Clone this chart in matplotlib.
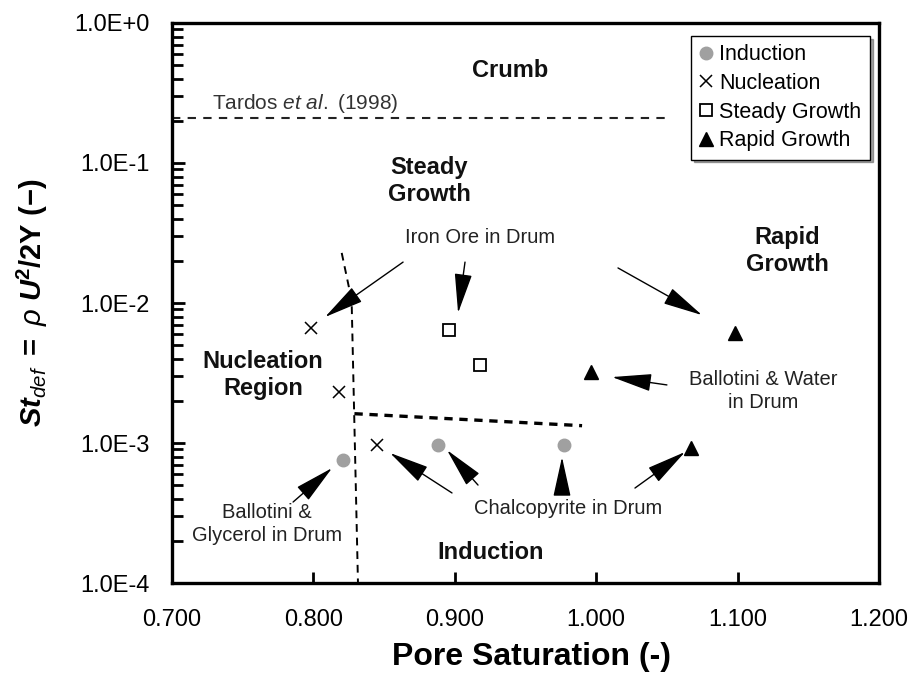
import numpy as np
import matplotlib
matplotlib.use('Agg')
import matplotlib.pyplot as plt
from matplotlib.ticker import FuncFormatter, LogLocator, NullFormatter

plt.rcParams['font.family'] = ['Liberation Sans', 'DejaVu Sans']
plt.rcParams['mathtext.fontset'] = 'custom'
plt.rcParams['mathtext.rm'] = 'Liberation Sans'
plt.rcParams['mathtext.it'] = 'Liberation Sans:italic'
plt.rcParams['mathtext.bf'] = 'Liberation Sans:bold'
plt.rcParams['mathtext.bfit'] = 'Liberation Sans:bold:italic'

# data points
ind_x = [0.821, 0.888, 0.977]
ind_y = [7.6e-4, 9.7e-4, 9.7e-4]
nuc_x = [0.798, 0.818, 0.845]
nuc_y = [6.6e-3, 2.3e-3, 9.7e-4]
sg_x = [0.896, 0.918]
sg_y = [6.4e-3, 3.6e-3]
rg_x = [1.098, 0.996, 1.067]
rg_y = [6.1e-3, 3.2e-3, 9.2e-4]

# regime boundaries
tardos_x = [0.700, 1.052]
tardos_y = [0.21, 0.21]
nuc_bound_x = [0.820, 0.827, 0.8315]
nuc_bound_y = [0.0228, 0.0105, 1e-4]
ind_bound_x = [0.829, 0.990]
ind_bound_y = [1.62e-3, 1.33e-3]

# arrows: (tail, head)
arrows = [
    ((0.8634, 0.0196), (0.8082, 7.94e-3)),
    ((0.9072, 0.0196), (0.9023, 8.49e-3)),
    ((1.0154, 0.0178), (1.0748, 8.2e-3)),
    ((1.0500, 2.6e-3), (1.0112, 2.96e-3)),
    ((1.0274, 4.77e-4), (1.0628, 8.63e-4)),
    ((0.9758, 4.3e-4), (0.9758, 7.94e-4)),
    ((0.9164, 5.01e-4), (0.8945, 8.9e-4)),
    ((0.8980, 4.4e-4), (0.8542, 8.49e-4)),
    ((0.7856, 3.79e-4), (0.8132, 6.63e-4)),
]

region_labels = [
    ('Crumb', 0.939, 0.46),
    ('Steady\nGrowth', 0.882, 0.0743),
    ('Rapid\nGrowth', 1.135, 0.0235),
    ('Nucleation\nRegion', 0.7644, 3.06e-3),
    ('Induction', 0.925, 1.66e-4),
]
note_labels = [
    ('Iron Ore in Drum', 0.918, 0.0296),
    ('Ballotini & Water\nin Drum', 1.118, 2.35e-3),
    ('Chalcopyrite in Drum', 0.980, 3.43e-4),
    ('Ballotini &\nGlycerol in Drum', 0.7672, 2.64e-4),
]

fig = plt.figure(figsize=(9.21, 6.9), dpi=100)
ax = fig.add_axes([0.1868, 0.155, 0.7676, 0.8117])
ax.set_yscale('log')
ax.set_xlim(0.7, 1.2)
ax.set_ylim(1e-4, 1.0)

ax.plot(tardos_x, tardos_y, color='#222222', lw=1.5, dashes=(4, 3.5))
ax.plot(nuc_bound_x, nuc_bound_y, color='black', lw=1.4, dashes=(4, 3))
ax.plot(ind_bound_x, ind_bound_y, color='black', lw=2.4, dashes=(2.5, 2))

ax.plot(ind_x, ind_y, 'o', color='#a0a0a0', ms=9, mec='#a0a0a0', label='Induction')
ax.plot(nuc_x, nuc_y, 'x', color='black', ms=9, mew=1.1, label='Nucleation')
ax.plot(sg_x, sg_y, 's', mfc='white', mec='black', ms=9, mew=1.3, label='Steady Growth')
ax.plot(rg_x, rg_y, '^', color='black', ms=10, label='Rapid Growth')

for tail, head in arrows:
    ax.annotate('', xy=head, xytext=tail,
                arrowprops=dict(arrowstyle='-|>,head_length=2.5,head_width=0.55',
                                color='black', lw=1.0, shrinkA=0, shrinkB=0))

for txt, x, y in region_labels:
    ax.text(x, y, txt, ha='center', va='center', fontsize=17, fontweight='bold',
            color='#111111', linespacing=1.2)
for txt, x, y in note_labels:
    ax.text(x, y, txt, ha='center', va='center', fontsize=14.5, color='#222222',
            linespacing=1.25)
ax.text(0.7283, 0.268, r'Tardos $\mathit{et\ al.}$ (1998)', ha='left', va='center',
        fontsize=15, color='#333333')

leg = ax.legend(loc='upper right', bbox_to_anchor=(0.987, 0.977), fontsize=15.5,
                frameon=True, fancybox=False, shadow=True, handlelength=0.6,
                handletextpad=0.3, borderpad=0.4, labelspacing=0.35,
                borderaxespad=0)
leg.get_frame().set_edgecolor('black')
leg.get_frame().set_linewidth(1.0)

ax.yaxis.set_major_locator(LogLocator(base=10, numticks=10))
ax.yaxis.set_minor_locator(LogLocator(base=10, subs=np.arange(2, 10), numticks=10))
ax.yaxis.set_minor_formatter(NullFormatter())
ax.yaxis.set_major_formatter(FuncFormatter(lambda v, p: f'1.0E{int(round(np.log10(v))):+d}'))
ax.set_xticks([0.7, 0.8, 0.9, 1.0, 1.1, 1.2])
ax.xaxis.set_major_formatter(FuncFormatter(lambda v, p: f'{v:.3f}'))

ax.tick_params(axis='both', which='both', direction='in', width=2, colors='black')
ax.tick_params(axis='x', which='major', length=8, pad=19, labelsize=17)
ax.tick_params(axis='y', which='major', length=9, pad=16, labelsize=17)
ax.tick_params(axis='y', which='minor', length=8)
for s in ax.spines.values():
    s.set_linewidth(2.4)

ax.set_xlabel('Pore Saturation (-)', fontsize=23, fontweight='bold')
ax.xaxis.set_label_coords(0.509, -0.105)
ax.set_ylabel(r'$\mathbfit{St}_{\mathit{def}}\ \mathbf{=}\ \mathit{\rho}\ \mathbfit{U}^{\mathbf{2}}\mathbf{/2Y\ (-)}$',
              fontsize=21)
ax.yaxis.set_label_coords(-0.173, 0.5)

fig.savefig('out.png', dpi=100)
